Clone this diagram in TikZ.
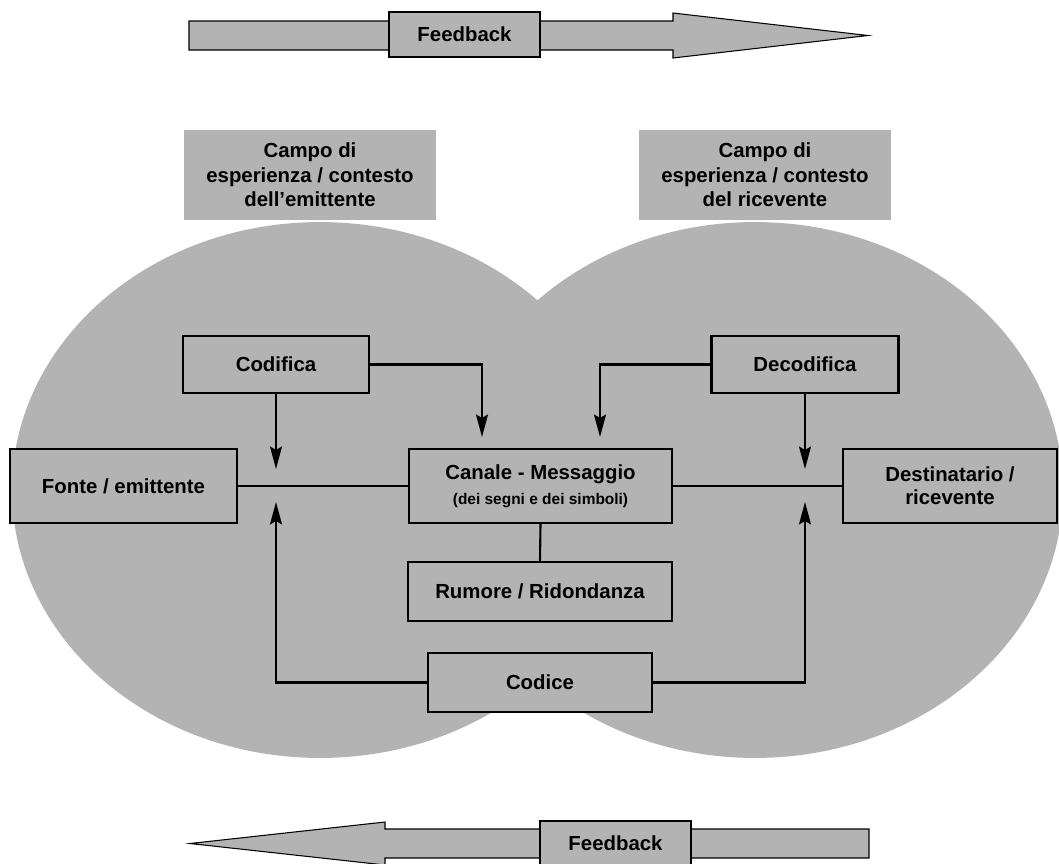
\documentclass[tikz,border=0pt]{standalone}
\usepackage{fontspec}
\setmainfont{Liberation Sans}
\usetikzlibrary{arrows.meta}
\definecolor{fillgray}{RGB}{179,179,179}

\begin{document}
\begin{tikzpicture}[x=0.02cm, y=-0.02cm,
    font=\bfseries\fontsize{11.6}{13.3}\selectfont,
    box/.style={draw, line width=1.2pt, fill=fillgray, inner sep=0pt, align=center},
    campo/.style={fill=fillgray, inner sep=0pt, align=center,
      font=\bfseries\fontsize{11.6}{13.9}\selectfont,
      minimum width=5.04cm, minimum height=1.8cm},
    link/.style={line width=1.2pt},
    arr/.style={link, -{Stealth[length=4.5mm, width=2.4mm, inset=0.7mm]}},
    fbarrow/.style={draw, line width=0.6pt, fill=fillgray},
    fbbox/.style={draw, line width=0.8pt, fill=fillgray, inner sep=0pt,
      minimum width=3.02cm, minimum height=0.9cm}]
  \path[use as bounding box, clip] (0,0) rectangle (1059,863);

  % the two fields of experience
  \fill[fillgray] (320,490) ellipse [x radius=6.16cm, y radius=5.36cm];
  \fill[fillgray] (755,490) ellipse [x radius=6.16cm, y radius=5.36cm];
  \node[campo] (campoL) at (310,175) {Campo di\\esperienza / contesto\\dell’emittente};
  \node[campo] (campoR) at (765,175) {Campo di\\esperienza / contesto\\del ricevente};

  % feedback arrows
  \draw[fbarrow] (189,21) -- (673,21) -- (673,13) -- (868,35.5) -- (673,58)
    -- (673,50) -- (189,50) -- cycle;
  \node[fbbox] (fbtop) at (464.5,34.5) {Feedback};
  \draw[fbarrow] (869,829) -- (385,829) -- (385,822) -- (190,843.5) -- (385,865)
    -- (385,858) -- (869,858) -- cycle;
  \node[fbbox] (fbbot) at (615.5,843.5) {Feedback};

  % boxes
  \node[box, minimum width=3.72cm, minimum height=1.14cm] (codifica) at (276,364.5) {Codifica};
  \node[box, minimum width=3.74cm, minimum height=1.14cm] (decodifica) at (805,364.5) {Decodifica};
  \node[box, minimum width=4.54cm, minimum height=1.48cm] (fonte) at (123.5,486) {Fonte / emittente};
  \node[box, minimum width=5.26cm, minimum height=1.48cm] (canale) at (540.5,486)
    {Canale - Messaggio\\[1pt]{\fontsize{8.8}{10}\selectfont(dei segni e dei simboli)}};
  \node[box, minimum width=4.28cm, minimum height=1.48cm] (dest) at (950,486) {Destinatario /\\ricevente};
  \node[box, minimum width=5.28cm, minimum height=1.18cm] (rumore) at (540,591.5) {Rumore / Ridondanza};
  \node[box, minimum width=4.48cm, minimum height=1.18cm] (codice) at (540,682.5) {Codice};

  % arrow ends
  \coordinate (lup) at (276,469);
  \coordinate (ldown) at (276,502);
  \coordinate (rup) at (805,469);
  \coordinate (rdown) at (805,502);
  \coordinate (msgL) at (482,437);
  \coordinate (msgR) at (600,437);

  % connectors
  \draw[link] (fonte.east) -- (canale.west);
  \draw[link] (canale.east) -- (dest.west);
  \draw[link] (canale.south) -- (rumore.north);
  \draw[arr] (codifica.south) -- (lup);
  \draw[arr] (decodifica.south) -- (rup);
  \draw[arr] (codifica.east) -| (msgL);
  \draw[arr] (decodifica.west) -| (msgR);
  \draw[arr] (codice.west) -| (ldown);
  \draw[arr] (codice.east) -| (rdown);
\end{tikzpicture}
\end{document}
